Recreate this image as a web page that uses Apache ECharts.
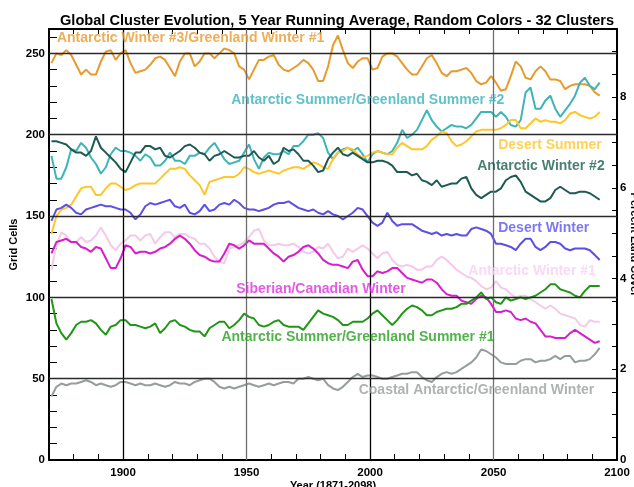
<!DOCTYPE html>
<html><head><meta charset="utf-8">
<script src="https://cdn.jsdelivr.net/npm/echarts@6/dist/echarts.min.js"></script>
<style>html,body{margin:0;padding:0;background:#fff}#c{width:634px;height:487px}</style>
</head><body><div id="c"></div>
<script>
// Years (5-yr running average, sampled every 2 years)
const years = Array.from({length: 112}, (_, i) => 1871 + 2 * i);

const antWinter3 = [244,250,249,252,249,243,237,240,237,237,
245,251,252,246,250,252,244,238,239,240,
243,247,248,246,241,236,245,250,250,242,
245,250,250,247,250,253,252,250,242,240,
234,240,246,246,248,249,243,240,239,241,
243,246,244,240,233,233,242,255,261,252,
244,241,245,247,247,240,241,248,250,250,
248,244,240,237,237,242,247,249,244,238,
236,239,239,240,241,238,233,231,232,236,
232,227,228,236,245,242,235,234,239,242,
239,234,234,233,228,230,231,231,231,230,
226,224];

const antSummer2 = [187,173,173,180,191,190,195,192,186,182,
176,180,188,192,190,190,189,187,184,188,
186,181,181,184,189,184,184,182,187,187,
189,188,192,195,190,185,182,183,184,189,
194,185,179,186,189,188,188,190,188,193,
193,196,200,200,201,198,189,185,189,191,
192,190,192,188,183,188,190,189,188,190,
195,203,198,200,203,209,215,209,205,202,
204,206,205,205,204,206,210,214,214,214,
211,214,211,206,205,209,226,229,216,216,
221,224,216,211,215,219,224,232,235,230,
228,232];

const desertSummer = [139,150,154,155,157,162,167,168,168,163,
163,167,170,170,168,166,167,169,170,170,
170,170,173,176,179,179,180,179,175,172,
169,163,171,172,173,174,174,174,176,180,
179,177,176,177,178,177,176,178,179,180,
180,179,181,183,182,180,179,185,189,190,
192,191,188,186,187,189,190,189,188,188,
192,195,193,191,191,191,193,197,199,202,
201,196,193,194,196,199,202,203,203,203,
203,204,206,209,209,204,204,207,210,208,
209,208,208,207,209,213,214,212,211,210,
211,214];

const antWinter2 = [196,196,195,194,191,189,189,187,190,199,
192,189,186,183,179,177,183,189,189,193,
193,191,192,187,186,188,190,193,194,192,
189,188,184,187,188,190,188,186,186,187,
187,190,186,184,187,182,184,192,190,191,
188,184,184,181,177,178,185,189,192,188,
187,189,187,185,183,183,184,184,183,181,
177,177,177,175,176,172,171,169,172,168,
169,170,170,173,174,167,163,161,163,165,
165,167,172,174,175,171,165,163,161,159,
159,161,166,168,166,164,164,165,165,164,
162,160];

const desertWinter = [147,154,155,157,155,152,151,154,155,156,
157,156,156,155,154,154,152,148,151,156,
158,157,158,159,160,156,155,157,152,151,
153,157,153,154,157,158,157,160,158,155,
154,154,153,154,155,157,158,158,159,157,
155,154,153,154,152,151,153,151,150,148,
150,152,155,154,150,146,144,146,152,147,
144,145,145,145,143,141,140,139,140,138,
139,138,139,138,138,142,143,142,141,139,
133,133,132,131,129,133,136,136,131,129,
131,134,134,133,130,129,130,130,130,129,
126,123];

const antWinter1 = [117,132,140,138,134,134,137,134,135,138,
143,138,132,129,133,135,138,138,135,138,
139,133,137,140,140,137,139,139,137,136,
133,133,130,125,122,121,130,131,132,134,
137,141,142,135,132,132,133,132,132,133,
131,128,127,128,131,130,133,128,124,125,
130,128,130,132,130,127,124,127,128,123,
120,119,120,119,117,117,119,119,123,125,
123,120,117,115,113,112,110,107,105,106,
110,106,105,102,100,101,101,99,97,95,
93,95,93,90,89,88,87,83,82,86,
85,85];

const sibCanWinter = [127,134,135,136,134,134,131,130,128,131,
130,124,118,118,124,132,131,127,128,128,
127,128,130,131,133,136,138,136,133,129,
126,125,123,122,122,127,133,132,130,132,
135,133,133,133,130,127,125,122,125,126,
128,131,132,130,127,123,121,120,120,119,
118,122,123,117,113,113,116,115,116,118,
118,115,112,111,110,109,111,111,109,105,
102,101,101,98,97,96,99,101,100,96,
91,91,92,91,87,86,87,85,84,80,
76,76,75,75,75,78,80,78,76,74,
72,73];

const antSummer1 = [99,84,78,74,78,83,85,85,86,84,
80,77,82,83,86,86,83,83,82,81,
82,84,78,81,85,86,83,82,80,79,
79,76,81,83,85,85,81,83,86,90,
88,87,83,82,83,85,86,83,82,82,
82,80,84,88,92,90,89,88,86,83,
83,85,85,85,87,90,92,89,86,83,
86,90,93,95,94,92,89,89,91,92,
93,93,94,96,96,98,100,103,99,100,
97,96,100,98,99,100,99,100,101,103,
105,108,108,105,104,103,101,100,104,107,
107,107];

const coastalWinter = [39,45,47,46,47,47,48,49,48,46,
47,46,45,46,48,48,47,46,47,46,
46,47,46,45,46,48,47,47,46,48,
49,50,50,48,45,44,45,44,45,46,
47,46,45,46,47,46,47,48,48,47,
50,50,51,50,49,50,46,44,43,45,
48,51,53,51,52,52,51,50,50,51,
52,53,53,54,54,51,49,48,51,53,
54,53,54,56,58,60,63,68,67,65,
63,60,59,59,59,61,62,62,60,61,
61,62,64,62,64,64,60,61,61,62,
65,69];

const seriesNames = ['Antarctic Winter #3/Greenland Winter #1','Antarctic Summer/Greenland Summer #2','Desert Summer','Antarctic Winter #2','Desert Winter','Antarctic Winter #1','Siberian/Canadian Winter','Antarctic Summer/Greenland Summer #1','Coastal Antarctic/Greenland Winter'];
const seriesValues = [antWinter3, antSummer2, desertSummer, antWinter2, desertWinter, antWinter1, sibCanWinter, antSummer1, coastalWinter];
const lineColors = ['#E89A2C','#3DB4B8','#FFC629','#1D5A52','#5B4FE6','#F4CAE8','#D81ECC','#1F9615','#969E99'];
const textColors = ['#E89A2C','#38B2BC','#FFC629','#1B5E50','#5B56EE','#F8D0F0','#E030E0','#28A01E','#9AA09C'];
// Label anchors (year, grid cells)
const labelYears = [1873.2, 1943.8, 2051.9, 2043.4, 2051.9, 2039.8, 1945.8, 1939.8, 1995.4];
const labelValues = [259.2, 221.1, 193.5, 180.6, 142.5, 116.1, 105.0, 75.6, 43.0];

const gridYears = [1900, 1950, 2000, 2050];
const gridValues = [50, 100, 150, 200, 250];

const FONT = 'Liberation Sans, Arial, sans-serif';
const chart = echarts.init(document.getElementById('c'), null, {renderer: 'canvas'});

const lineSeries = seriesValues.map((vals, i) => ({
  type: 'line', name: seriesNames[i], xAxisIndex: 0, yAxisIndex: 0,
  data: vals.map((v, j) => [years[j], v]),
  showSymbol: false, symbol: 'none', smooth: false,
  lineStyle: {color: lineColors[i], width: 2}, itemStyle: {color: lineColors[i]},
  z: 3, silent: true
}));

const tickFont = {fontFamily: FONT, fontSize: 11.5, fontWeight: 'bold', color: '#000'};

const option = {
  animation: false,
  backgroundColor: '#fff',
  title: {
    text: 'Global Cluster Evolution, 5 Year Running Average, Random Colors - 32 Clusters',
    left: 55, top: 8,
    textStyle: {fontFamily: FONT, fontSize: 14.6, fontWeight: 'bold', color: '#000'}
  },
  grid: {left: 49, right: 17, top: 29, bottom: 27, containLabel: false, outerBoundsMode: 'none'},
  xAxis: [{
    type: 'value', min: 1870, max: 2100, interval: 10, position: 'bottom',
    name: 'Year (1871-2098)', nameLocation: 'middle', nameGap: 20, nameMoveOverlap: false,
    nameTextStyle: {fontFamily: FONT, fontSize: 11, fontWeight: 'bold', color: '#000'},
    axisLine: {show: true, onZero: false, lineStyle: {color: '#000', width: 2}},
    axisTick: {show: true, inside: true, length: 6, lineStyle: {color: '#000'}},
    axisLabel: Object.assign({show: true, margin: 7,
      formatter: v => (v % 50 === 0 ? String(v) : ''), showMinLabel: true, showMaxLabel: true, hideOverlap: false}, tickFont),
    splitLine: {show: false}
  }, {
    type: 'value', min: 1870, max: 2100, interval: 10, position: 'top',
    axisLine: {show: true, onZero: false, lineStyle: {color: '#000', width: 2}},
    axisTick: {show: true, inside: true, length: 5, lineStyle: {color: '#000'}},
    axisLabel: {show: false}, splitLine: {show: false}
  }],
  yAxis: [{
    type: 'value', min: 0, max: 265, interval: 10, position: 'left',
    name: 'Grid Cells', nameLocation: 'middle', nameGap: 30, nameMoveOverlap: false,
    nameTextStyle: {fontFamily: FONT, fontSize: 11, fontWeight: 'bold', color: '#000'},
    axisLine: {show: true, onZero: false, lineStyle: {color: '#000', width: 2}},
    axisTick: {show: true, inside: true, length: 8, lineStyle: {color: '#000'}},
    axisLabel: Object.assign({show: true, margin: 4,
      formatter: v => (v % 50 === 0 ? String(v) : ''), hideOverlap: false}, tickFont),
    splitLine: {show: false}
  }, {
    type: 'value', min: 0, max: 9.5, interval: 0.5, position: 'right',
    name: 'Percent Land Cover', nameLocation: 'middle', nameGap: 12, nameRotate: -90, nameMoveOverlap: false,
    nameTextStyle: {fontFamily: FONT, fontSize: 11, fontWeight: 'bold', color: '#000'},
    axisLine: {show: true, onZero: false, lineStyle: {color: '#000', width: 2}},
    axisTick: {show: true, inside: true, length: 5, lineStyle: {color: '#000'}},
    axisLabel: Object.assign({show: true, margin: 3,
      formatter: v => (Math.abs(v % 2) < 1e-9 ? String(v) : ''), hideOverlap: false}, tickFont),
    splitLine: {show: false}
  }],
  series: [{
    type: 'line', name: 'grid', data: [], xAxisIndex: 0, yAxisIndex: 0, z: 1, silent: true,
    markLine: {
      silent: true, symbol: ['none', 'none'], label: {show: false}, animation: false,
      lineStyle: {type: 'solid', width: 1, color: '#333'},
      data: gridYears.map(y => ({xAxis: y, lineStyle: {type: 'solid', width: 1.3, color: (y % 100 === 0 ? '#000' : '#6f6f6f')}}))
        .concat(gridValues.map(v => ({yAxis: v, lineStyle: {type: 'solid', width: 1.3, color: '#2a2a2a'}})))
    }
  }].concat(lineSeries).concat([{
    type: 'scatter', name: 'labels', xAxisIndex: 0, yAxisIndex: 0, symbolSize: 0, z: 5, silent: true,
    data: seriesNames.map((n, i) => ({name: n, value: [labelYears[i], labelValues[i]],
      label: {color: textColors[i]}})),
    label: {show: true, position: 'right', distance: 0, formatter: '{b}',
      fontFamily: FONT, fontSize: 14, fontWeight: 'bold'}
  }])
};
chart.setOption(option);
</script></body></html>
